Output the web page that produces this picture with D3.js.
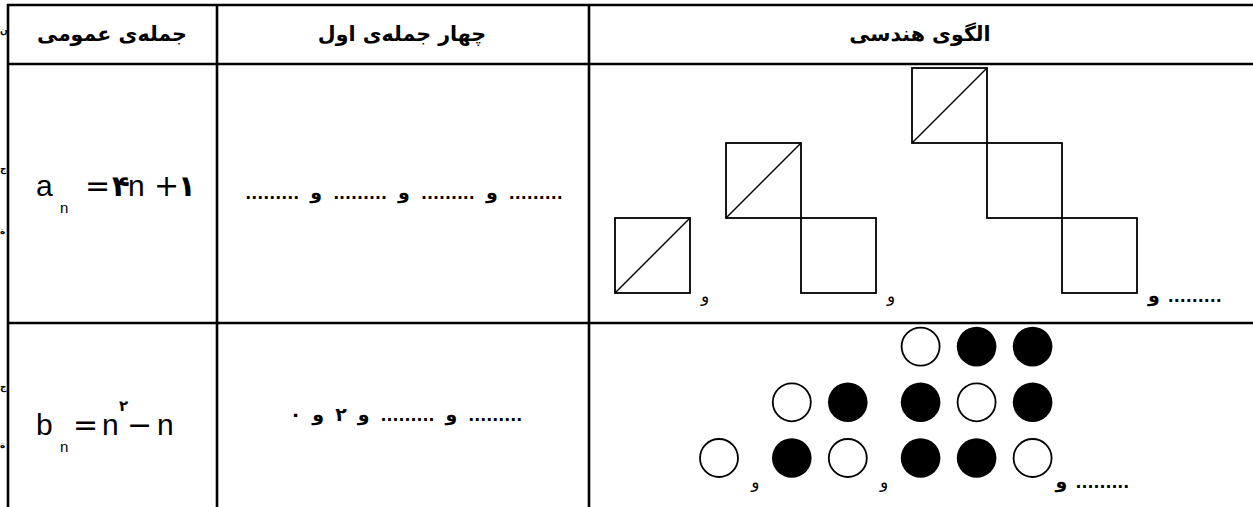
<!DOCTYPE html>
<html>
<head>
<meta charset="utf-8">
<script src="https://cdn.jsdelivr.net/npm/d3@7"></script>
<style>
    body { margin: 0; background: #fff; }
    svg { display: block; }
    .fa { font-family: "DejaVu Sans", sans-serif; font-weight: bold; }
</style>
</head>
<body>
<div id="chart"></div>
<script>
const width = 1253;
const height = 507;

// ---- data ----
const headers = ["جمله‌ی عمومی", "چهار جمله‌ی اول", "الگوی هندسی"];
// first four terms, in the order they appear from left to right (null = blank)
const termsA = [null, null, null, null];
const termsB = [0, 2, null, null];
// squares per figure (pattern a_n)
const squareCounts = [1, 2, 3];
// circle grids per figure, top row first (1 = filled, 0 = empty)
const circleGrids = [
    [[0]],
    [[0, 1], [1, 0]],
    [[0, 1, 1], [1, 0, 1], [1, 1, 0]]
];
const formulaA = [["a", "r"], ["n", "sub"], ["=", "op"], ["۴", "fa"], ["n", "r"], ["+", "op"], ["۱", "fa"]];
const formulaB = [["b", "r"], ["n", "sub"], ["=", "op"], ["n", "r"], ["۲", "sup"], ["−", "op"], ["n", "r"]];
const blank = ".........";
const andWord = "و";

const fa = (n) => String(n).replace(/\d/g, (d) => "۰۱۲۳۴۵۶۷۸۹"[d]);

// ---- layout ----
const colEdges = [8, 217, 589, 1258];
const rowEdges = [5, 64, 323, 520];

const svg = d3
    .select("#chart")
    .append("svg")
    .attr("width", width)
    .attr("height", height);

svg.append("rect").attr("width", width).attr("height", height).attr("fill", "#fff");

// table lines
svg.append("g")
    .selectAll("line")
    .data(rowEdges.slice(0, 3))
    .join("line")
    .attr("x1", colEdges[0] - 1)
    .attr("x2", width + 5)
    .attr("y1", (d) => d)
    .attr("y2", (d) => d)
    .attr("stroke", "#000")
    .attr("stroke-width", 2.6);

svg.append("g")
    .selectAll("line")
    .data(colEdges.slice(0, 3))
    .join("line")
    .attr("x1", (d) => d)
    .attr("x2", (d) => d)
    .attr("y1", rowEdges[0] - 1)
    .attr("y2", height + 5)
    .attr("stroke", "#000")
    .attr("stroke-width", 2.6);

// small marks of the neighbouring column at the left edge
const edgeGlyphs = [["ن", 34], ["ج", 172], ["ة", 234], ["ج", 390], ["ة", 448]];
svg.append("g")
    .selectAll("text")
    .data(edgeGlyphs)
    .join("text")
    .attr("class", "fa")
    .attr("x", 0)
    .attr("y", (d) => d[1])
    .attr("font-size", 9)
    .text((d) => d[0]);

// headers
const colCenters = [112, 402, 920];
const probe = svg.append("text").attr("class", "fa").attr("font-size", 22).text(headers[0]);
let headSize = 22 * 150 / probe.node().getComputedTextLength();
headSize = Math.max(18, Math.min(25, headSize));
probe.remove();

svg.append("g")
    .selectAll("text")
    .data(headers)
    .join("text")
    .attr("class", "fa")
    .attr("direction", "rtl")
    .attr("text-anchor", "middle")
    .attr("x", (d, i) => colCenters[i])
    .attr("y", 41)
    .attr("font-size", headSize)
    .text((d) => d);

// formulas
const formulaStyle = {
    r: { family: "'Liberation Sans', Arial, sans-serif", size: 30, weight: "normal", dy: 0 },
    sub: { family: "'Liberation Sans', Arial, sans-serif", size: 15, weight: "normal", dy: 17 },
    op: { family: "'DejaVu Sans', sans-serif", size: 30, weight: "normal", dy: 0 },
    fa: { family: "'DejaVu Sans', sans-serif", size: 29, weight: "bold", dy: 0 },
    sup: { family: "'DejaVu Sans', sans-serif", size: 15, weight: "bold", dy: -24 }
};
const formulaXA = [36, 60, 85, 112, 128, 154, 178];
const formulaXB = [36, 60, 73, 102, 119, 127, 157];

function drawFormula(tokens, xs, baseline) {
    svg.append("g")
        .selectAll("text")
        .data(tokens)
        .join("text")
        .attr("x", (d, i) => xs[i])
        .attr("y", (d) => baseline + formulaStyle[d[1]].dy)
        .attr("font-family", (d) => formulaStyle[d[1]].family)
        .attr("font-size", (d) => formulaStyle[d[1]].size)
        .attr("font-weight", (d) => formulaStyle[d[1]].weight)
        .text((d) => d[0]);
}
drawFormula(formulaA, formulaXA, 196);
drawFormula(formulaB, formulaXB, 435);

// size of the dotted blanks
const dotProbe = svg.append("text").attr("class", "fa").attr("font-size", 16).text(blank);
let termSize = 16 * 54 / dotProbe.node().getComputedTextLength();
termSize = Math.max(12, Math.min(20, termSize));
dotProbe.remove();
const wordSize = 19;

// row of tokens laid out left to right, centred on cx (or starting at cx)
function drawTokens(tokens, cx, baseline, gap, anchorLeft) {
    const g = svg.append("g");
    const texts = g
        .selectAll("text")
        .data(tokens)
        .join("text")
        .attr("class", "fa")
        .attr("direction", "ltr")
        .attr("font-size", (d) => (d === blank ? termSize : wordSize))
        .attr("y", baseline)
        .text((d) => d);
    const widths = texts.nodes().map((n) => n.getComputedTextLength());
    const total = d3.sum(widths) + gap * (tokens.length - 1);
    let x = anchorLeft ? cx : cx - total / 2;
    texts.each(function (d, i) {
        d3.select(this).attr("x", x);
        x += widths[i] + gap;
    });
}

function termTokens(values) {
    const out = [];
    values.forEach((v, i) => {
        if (i > 0) out.push(andWord);
        out.push(v === null ? blank : fa(v));
    });
    return out;
}

drawTokens(termTokens(termsA), 404, 199, 11, false);
drawTokens(termTokens(termsB), 406, 421, 11, false);

// ---- squares pattern ----
const sqGap = 0.48;
const xSq = d3.scaleLinear().domain([0, 1]).range([615, 690]);
const ySq = d3.scaleLinear().domain([0, 1]).range([293, 218]);

const sqStarts = squareCounts.map((n, k) => d3.sum(squareCounts.slice(0, k)) + k * sqGap);
const squares = [];
squareCounts.forEach((n, k) => {
    for (let i = 0; i < n; i++) {
        squares.push({ col: sqStarts[k] + i, row: n - 1 - i, diag: i === 0 });
    }
});

const sqG = svg.append("g");
sqG.selectAll("rect")
    .data(squares)
    .join("rect")
    .attr("x", (d) => xSq(d.col))
    .attr("y", (d) => ySq(d.row + 1))
    .attr("width", (d) => xSq(d.col + 1) - xSq(d.col))
    .attr("height", (d) => ySq(d.row) - ySq(d.row + 1))
    .attr("fill", "none")
    .attr("stroke", "#000")
    .attr("stroke-width", 1.8);

sqG.selectAll("line")
    .data(squares.filter((d) => d.diag))
    .join("line")
    .attr("x1", (d) => xSq(d.col))
    .attr("y1", (d) => ySq(d.row))
    .attr("x2", (d) => xSq(d.col + 1))
    .attr("y2", (d) => ySq(d.row + 1))
    .attr("stroke", "#000")
    .attr("stroke-width", 1.4);

// "و" between the square figures
const sqLabels = squareCounts.slice(0, -1).map((n, k) => (xSq(sqStarts[k] + n) + xSq(sqStarts[k + 1])) / 2);
svg.append("g")
    .selectAll("text")
    .data(sqLabels)
    .join("text")
    .attr("x", (d) => d - 3)
    .attr("y", 302)
    .attr("text-anchor", "middle")
    .attr("font-family", "'DejaVu Sans', sans-serif")
    .attr("font-size", 17)
    .text(andWord);

const sqLast = squareCounts.length - 1;
drawTokens([andWord, blank], xSq(sqStarts[sqLast] + squareCounts[sqLast]) + 11, 302, 8, true);

// ---- circles pattern ----
const cGap = 0.3;
const r = 19;
const xC = d3.scaleLinear().domain([0, 1]).range([719, 775]);
const yC = d3.scaleLinear().domain([0, 1]).range([458, 402.3]);

const cCounts = circleGrids.map((g) => g.length);
const cStarts = cCounts.map((n, k) => d3.sum(cCounts.slice(0, k)) + k * cGap);
const circles = [];
circleGrids.forEach((grid, k) => {
    const n = grid.length;
    grid.forEach((rowVals, ri) => {
        rowVals.forEach((v, ci) => {
            circles.push({ col: cStarts[k] + ci, row: n - 1 - ri, filled: v === 1 });
        });
    });
});

svg.append("g")
    .selectAll("circle")
    .data(circles)
    .join("circle")
    .attr("cx", (d) => xC(d.col))
    .attr("cy", (d) => yC(d.row))
    .attr("r", (d) => (d.filled ? r + 0.8 : r))
    .attr("fill", (d) => (d.filled ? "#000" : "#fff"))
    .attr("stroke", "#000")
    .attr("stroke-width", (d) => (d.filled ? 0 : 1.8));

const cLabels = cCounts.slice(0, -1).map((n, k) => (xC(cStarts[k] + n - 1) + r + xC(cStarts[k + 1]) - r) / 2);
svg.append("g")
    .selectAll("text")
    .data(cLabels)
    .join("text")
    .attr("x", (d) => d)
    .attr("y", 488)
    .attr("text-anchor", "middle")
    .attr("font-family", "'DejaVu Sans', sans-serif")
    .attr("font-size", 17)
    .text(andWord);

const cLast = cCounts.length - 1;
drawTokens([andWord, blank], xC(cStarts[cLast] + cCounts[cLast] - 1) + r + 4, 488, 8, true);
</script>
</body>
</html>
